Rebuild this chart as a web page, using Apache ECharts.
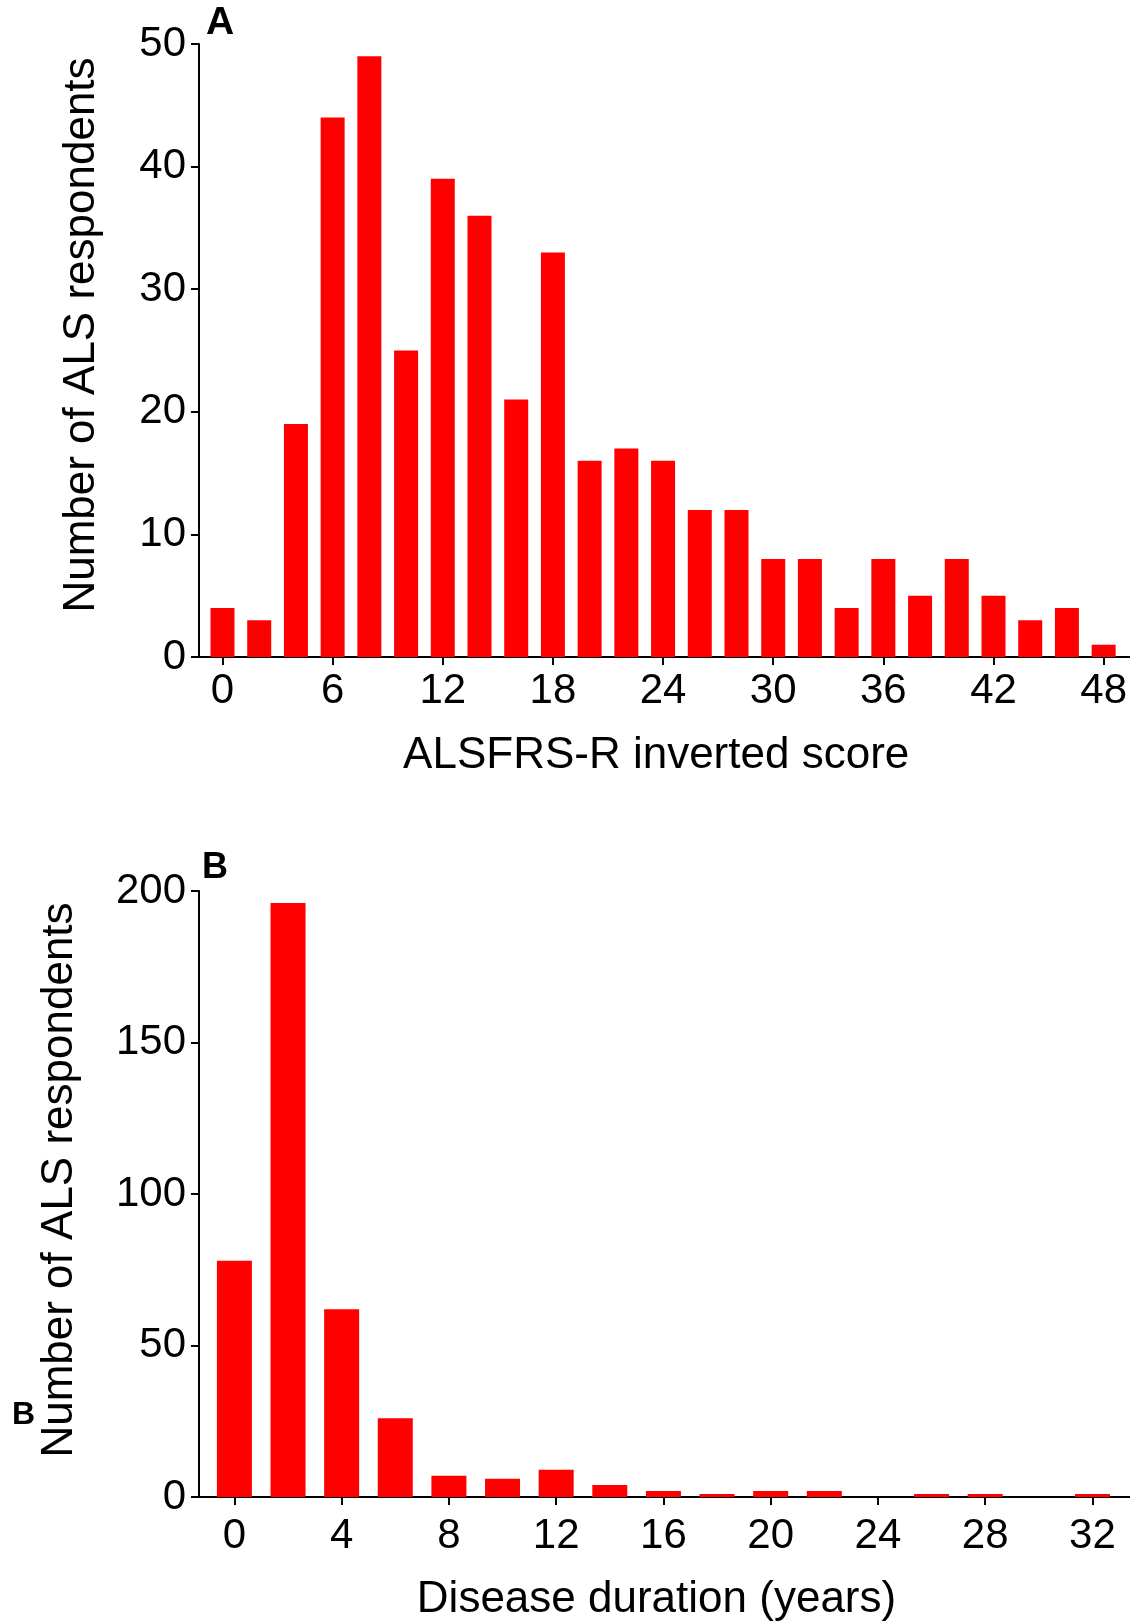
<!DOCTYPE html>
<html>
<head>
<meta charset="utf-8">
<script src="https://cdn.jsdelivr.net/npm/echarts@6/dist/echarts.min.js"></script>
<style>
html,body{margin:0;padding:0;background:#fff;}
#chart{width:1130px;height:1623px;}
</style>
</head>
<body>
<div id="chart"></div>
<script>
// Panel A: ALSFRS-R inverted score histogram
const scoreBins = [0,2,4,6,8,10,12,14,16,18,20,22,24,26,28,30,32,34,36,38,40,42,44,46,48];
const scoreCounts = [4,3,19,44,49,25,39,36,21,33,16,17,16,12,12,8,8,4,8,5,8,5,3,4,1];
const scoreTicks = [0,6,12,18,24,30,36,42,48];

// Panel B: disease duration histogram
const durationBins = [0,2,4,6,8,10,12,14,16,18,20,22,24,26,28,30,32];
const durationCounts = [78,196,62,26,7,6,9,4,2,1,2,2,0,1,1,0,1];
const durationTicks = [0,4,8,12,16,20,24,28,32];

const yTitle = 'Number of ALS respondents';

const FONT = '"Liberation Sans", Arial, Helvetica, sans-serif';
const RED = '#ff0000';

const chart = echarts.init(document.getElementById('chart'), null, {renderer:'canvas'});

function xAxisCfg(gridIndex, min, max, ticks, name, margin, nameGap){
  return {
    type:'value', gridIndex, min, max,
    axisLine:{show:true, onZero:false, lineStyle:{color:'#000', width:2}},
    axisTick:{show:true, length:8, lineStyle:{color:'#000', width:2}, customValues:ticks},
    axisLabel:{show:true, customValues:ticks, color:'#000', fontSize:42, fontFamily:FONT, margin},
    splitLine:{show:false},
    name, nameLocation:'middle', nameGap,
    nameTextStyle:{color:'#000', fontSize:44, fontFamily:FONT, padding:[0,16,0,0]}
  };
}
function yAxisCfg(gridIndex, max, interval){
  return {
    type:'value', gridIndex, min:0, max, interval,
    axisLine:{show:true, onZero:false, lineStyle:{color:'#000', width:2}},
    axisTick:{show:true, length:8, lineStyle:{color:'#000', width:2}},
    axisLabel:{show:true, color:'#000', fontSize:42, fontFamily:FONT, margin:13},
    splitLine:{show:false}
  };
}

chart.setOption({
  animation:false,
  backgroundColor:'#fff',
  grid:[
    {left:199, top:44, width:931, height:613},
    {left:199, top:891, width:931, height:611}
  ],
  xAxis:[
    xAxisCfg(0, -1.28, 49.4, scoreTicks, 'ALSFRS-R inverted score', 13, 77),
    xAxisCfg(1, -1.32, 33.4, durationTicks, 'Disease duration (years)', 18, 81)
  ],
  yAxis:[
    yAxisCfg(0, 50, 10),
    yAxisCfg(1, 200, 50)
  ],
  series:[
    {type:'bar', xAxisIndex:0, yAxisIndex:0, barWidth:24,
     itemStyle:{color:RED},
     data:scoreBins.map((b,i)=>[b, scoreCounts[i]])},
    {type:'bar', xAxisIndex:1, yAxisIndex:1, barWidth:35,
     itemStyle:{color:RED},
     data:durationBins.map((b,i)=>[b, durationCounts[i]])}
  ],
  graphic:[
    {type:'text', x:82, y:335, rotation:Math.PI/2,
     style:{text:yTitle, fontSize:44, fontFamily:FONT, fill:'#000', align:'center', verticalAlign:'middle'}},
    {type:'text', x:60, y:1180, rotation:Math.PI/2,
     style:{text:yTitle, fontSize:44, fontFamily:FONT, fill:'#000', align:'center', verticalAlign:'middle'}},
    {type:'text', left:206, top:4, style:{text:'A', fontSize:39, fontWeight:'bold', fontFamily:FONT, fill:'#000'}},
    {type:'text', left:202, top:850, style:{text:'B', fontSize:36, fontWeight:'bold', fontFamily:FONT, fill:'#000'}},
    {type:'text', left:12, top:1399, style:{text:'B', fontSize:32, fontWeight:'bold', fontFamily:FONT, fill:'#000'}}
  ]
});
</script>
</body>
</html>
